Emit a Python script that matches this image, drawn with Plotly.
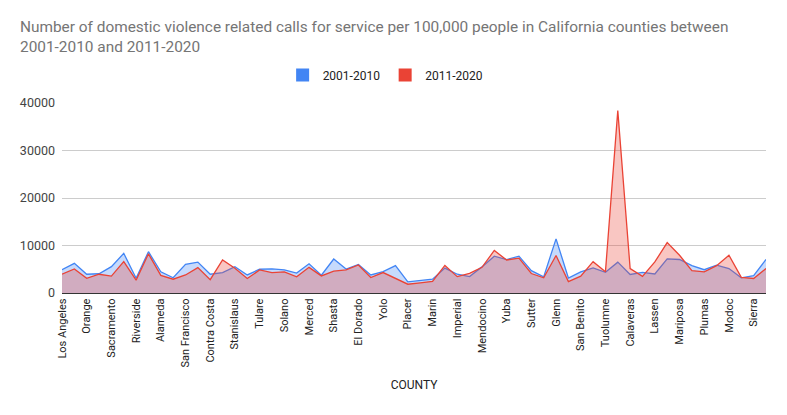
import plotly.graph_objects as go

counties = [
    "Los Angeles", "San Diego", "Orange", "San Bernardino", "Sacramento", "Fresno",
    "Riverside", "Kern", "Alameda", "Santa Clara", "San Francisco", "San Joaquin",
    "Contra Costa", "Ventura", "Stanislaus", "Sonoma", "Tulare", "Monterey",
    "Solano", "Santa Barbara", "Merced", "Butte", "Shasta", "Humboldt",
    "El Dorado", "Kings", "Yolo", "San Mateo", "Placer", "Santa Cruz",
    "Marin", "Madera", "Imperial", "Napa", "Mendocino", "Lake",
    "Yuba", "Tehama", "Sutter", "Siskiyou", "Glenn", "Del Norte",
    "San Benito", "Nevada", "Tuolumne", "Amador", "Calaveras", "Inyo",
    "Lassen", "Trinity", "Mariposa", "Colusa", "Plumas", "Mono",
    "Modoc", "San Luis Obispo", "Sierra", "Alpine",
]

rate_2001_2010 = [
    4900, 6250, 3950, 4050, 5550, 8350, 3100, 8700, 4450, 3200,
    6050, 6500, 3950, 4300, 5550, 3800, 5000, 5100, 4850, 4200,
    6150, 3750, 7150, 5050, 6000, 3800, 4500, 5750, 2350, 2700,
    2900, 5250, 3950, 3450, 5500, 7750, 7050, 7750, 4700, 3400,
    11400, 3150, 4450, 5300, 4350, 6500, 3900, 4350, 4000, 7200,
    7050, 5750, 4900, 5850, 5150, 3200, 3650, 7050,
]

rate_2011_2020 = [
    3950, 5050, 3100, 3950, 3550, 6600, 2700, 8250, 3700, 2900,
    3800, 5350, 2800, 6950, 5200, 3050, 4850, 4300, 4450, 3400,
    5400, 3600, 4600, 4850, 5900, 3250, 4300, 3100, 1850, 2150,
    2450, 5800, 3450, 4150, 5400, 8950, 6950, 7350, 4100, 3200,
    7900, 2400, 3550, 6600, 4450, 38400, 5150, 3500, 6550, 10600,
    7950, 4700, 4450, 5750, 7950, 3300, 3050, 5150,
]

series_names = ["2001-2010", "2011-2020"]
line_colors = ["#4285F4", "#EA4335"]
fill_colors = ["rgba(66,133,244,0.30)", "rgba(234,67,53,0.30)"]
y_ticks = [0, 10000, 20000, 30000, 40000]

fig = go.Figure()
for name, vals, lc, fc in zip(series_names, [rate_2001_2010, rate_2011_2020], line_colors, fill_colors):
    fig.add_trace(go.Scatter(
        x=counties, y=vals, name=name, mode="lines",
        line=dict(color=lc, width=1.3), fill="tozeroy", fillcolor=fc,
        showlegend=False, hoverinfo="x+y+name",
    ))
# legend swatches
for name, lc in zip(series_names, line_colors):
    fig.add_trace(go.Scatter(
        x=[None], y=[None], name=name, mode="markers",
        marker=dict(symbol="square", size=13, color=lc), showlegend=True,
    ))

W, H = 787, 415
left, right = 62, 766
top, bottom = 103.3, 293.5

fig.update_layout(
    width=W, height=H,
    margin=dict(l=left, r=W - right, t=top, b=H - bottom, autoexpand=False),
    paper_bgcolor="white", plot_bgcolor="white",
    font=dict(family="Roboto, Arial, sans-serif", color="#222222"),
    title=dict(
        text="Number of domestic violence related calls for service per 100,000 people in California counties between<br>2001-2010 and 2011-2020",
        x=20 / W, xref="container", xanchor="left",
        y=1 - 32 / H, yref="container", yanchor="top",
        font=dict(family="Roboto, Arial, sans-serif", size=15.4, color="#757575"),
    ),
    legend=dict(
        orientation="h", xref="container", x=0.49, xanchor="center",
        yref="container", y=1 - 75 / H, yanchor="middle",
        font=dict(size=12, color="#222222"), itemwidth=30,
        bgcolor="rgba(0,0,0,0)", tracegroupgap=0,
    ),
    xaxis=dict(
        type="category", range=[0, len(counties) - 1],
        tickmode="array", tickvals=counties[::2], ticktext=counties[::2],
        tickangle=-90, tickfont=dict(size=11, color="#222222"),
        showgrid=False, zeroline=False, showline=True, linecolor="#333333", linewidth=1.3,
        ticks="", ticklen=0,
        title=dict(text="COUNTY", font=dict(size=12, color="#222222"), standoff=14),
    ),
    yaxis=dict(
        range=[0, 40000], tickmode="array", tickvals=y_ticks,
        ticktext=[str(v) for v in y_ticks],
        tickfont=dict(size=12.5, color="#444444"),
        showgrid=True, gridcolor="#cccccc", gridwidth=1,
        zeroline=False, showline=False, ticks="", ticklabelstandoff=6,
    ),
    hovermode="closest",
)

fig.write_html("out.html")
